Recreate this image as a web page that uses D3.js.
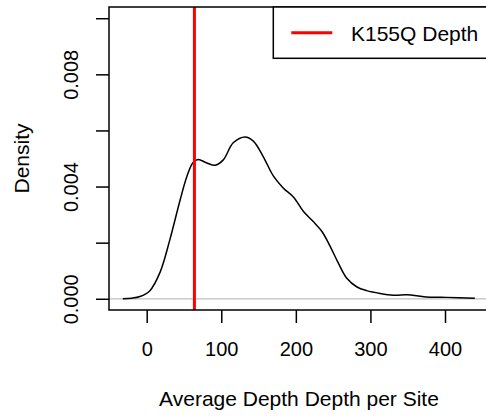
<!DOCTYPE html>
<html>
<head>
<meta charset="utf-8">
<script src="https://cdn.jsdelivr.net/npm/d3@7"></script>
<style>
  html, body { margin: 0; padding: 0; background: #fff; }
  svg { display: block; font-family: "Liberation Sans", Arial, Helvetica, sans-serif; }
</style>
</head>
<body>
<svg id="chart" width="486" height="418"></svg>
<script>
// ---- data ----
const depthX = [-32, -20, -9, 4, 18, 31, 45, 54, 62, 69, 80, 92, 103, 116, 132, 143, 156, 170, 183, 197, 210, 223, 235, 246, 257, 268, 282, 295, 313, 331, 349, 362, 375, 402, 440];
const densityY = [0, 0.00002, 0.00008, 0.00028, 0.00095, 0.0021, 0.00354, 0.00437, 0.00485, 0.00496, 0.00485, 0.00476, 0.00496, 0.00556, 0.00577, 0.00562, 0.00508, 0.00437, 0.00395, 0.00362, 0.00312, 0.00276, 0.0024, 0.00187, 0.00127, 0.00074, 0.00042, 0.00029, 0.00019, 0.00013, 0.00014, 0.00011, 0.00006, 0.00005, 0.00002];
const markerValue = 64;
const markerLabel = "K155Q Depth";
const xTicks = [0, 100, 200, 300, 400];
const yTicks = [0, 0.002, 0.004, 0.006, 0.008, 0.010];
const yLabelTicks = [0, 0.004, 0.008];
const xTitle = "Average Depth Depth per Site";
const yTitle = "Density";

// ---- layout ----
const svg = d3.select("#chart");
const pLeft = 109, pRight = 489, pTop = 7, pBottom = 310;
const x = d3.scaleLinear().domain([-50.55, 459]).range([pLeft, pRight]);
const y = d3.scaleLinear().domain([-0.0004, 0.0104]).range([pBottom, pTop]);

// zero line
svg.append("line")
  .attr("x1", pLeft).attr("x2", pRight)
  .attr("y1", y(0)).attr("y2", y(0))
  .attr("stroke", "#bebebe").attr("stroke-width", 1.2);

// density curve
const pts = depthX.map((d, i) => [d, densityY[i]]);
svg.append("path")
  .datum(pts)
  .attr("fill", "none")
  .attr("stroke", "#000")
  .attr("stroke-width", 1.5)
  .attr("d", d3.line().x(d => x(d[0])).y(d => y(d[1])).curve(d3.curveCatmullRom.alpha(0.5)));

// marker vertical line
svg.append("line")
  .attr("x1", x(markerValue)).attr("x2", x(markerValue))
  .attr("y1", pTop).attr("y2", pBottom)
  .attr("stroke", "#ff0000").attr("stroke-width", 3);

// box
svg.append("rect")
  .attr("x", pLeft).attr("y", pTop)
  .attr("width", pRight - pLeft).attr("height", pBottom - pTop)
  .attr("fill", "none").attr("stroke", "#000").attr("stroke-width", 1.5);

// x axis
const gx = svg.append("g").attr("transform", `translate(0,${pBottom})`)
  .call(d3.axisBottom(x).tickValues(xTicks).tickSize(13).tickFormat(d3.format("d")));
gx.select(".domain").remove();
gx.selectAll(".tick line").attr("stroke", "#000").attr("stroke-width", 1.5);
gx.selectAll(".tick text")
  .attr("y", 45.5).attr("dy", 0)
  .attr("font-size", 20).attr("fill", "#000")
  .attr("font-family", "Liberation Sans, Arial, sans-serif");

// y axis
const gy = svg.append("g").attr("transform", `translate(${pLeft},0)`)
  .call(d3.axisLeft(y).tickValues(yTicks).tickSize(13)
    .tickFormat(d => yLabelTicks.some(v => Math.abs(v - d) < 1e-9) ? d3.format(".3f")(d) : ""));
gy.select(".domain").remove();
gy.selectAll(".tick line").attr("stroke", "#000").attr("stroke-width", 1.5);
gy.selectAll(".tick text")
  .attr("x", 0).attr("y", 0).attr("dy", 0)
  .attr("text-anchor", "middle")
  .attr("transform", "translate(-31,0) rotate(-90)")
  .attr("font-size", 20).attr("fill", "#000")
  .attr("font-family", "Liberation Sans, Arial, sans-serif");

// axis titles
svg.append("text")
  .attr("x", (pLeft + pRight) / 2).attr("y", 405.5)
  .attr("text-anchor", "middle").attr("font-size", 21).attr("fill", "#000")
  .text(xTitle);
svg.append("text")
  .attr("transform", `translate(28.5,${(pTop + pBottom) / 2}) rotate(-90)`)
  .attr("text-anchor", "middle").attr("font-size", 21).attr("fill", "#000")
  .text(yTitle);

// legend
const lg = svg.append("g");
lg.append("rect")
  .attr("x", 273.3).attr("y", pTop)
  .attr("width", pRight - 273.3).attr("height", 51.3)
  .attr("fill", "#fff").attr("stroke", "#000").attr("stroke-width", 1.5);
lg.append("line")
  .attr("x1", 291.3).attr("x2", 332.3)
  .attr("y1", 32.7).attr("y2", 32.7)
  .attr("stroke", "#ff0000").attr("stroke-width", 3);
lg.append("text")
  .attr("x", 351).attr("y", 40.5)
  .attr("font-size", 21).attr("fill", "#000")
  .text(markerLabel);
</script>
</body>
</html>
